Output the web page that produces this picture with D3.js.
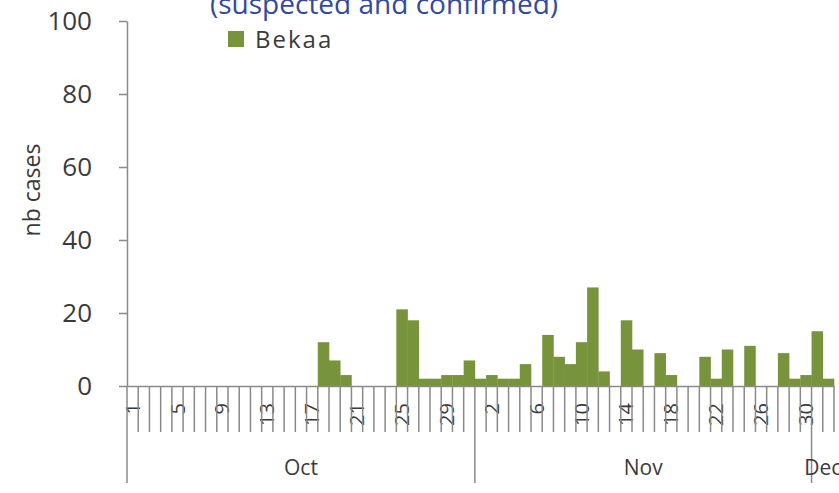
<!DOCTYPE html>
<html>
<head>
<meta charset="utf-8">
<script src="https://cdn.jsdelivr.net/npm/d3@7"></script>
<style>
  html, body { margin: 0; padding: 0; background: #fff; }
  svg { display: block; }
  text { font-family: "Open Sans", "Noto Sans", sans-serif; fill: #3a3a3a; }
</style>
</head>
<body>
<svg id="chart" width="839" height="493"></svg>
<script>
// ---- data ----
const months = ["Oct", "Nov", "Dec"];
const monthDays = [31, 30, 2];
const octCases = [0,0,0,0,0,0,0,0,0,0,0,0,0,0,0,0,0,12,7,3,0,0,0,0,21,18,2,2,3,3,7];
const novCases = [2,3,2,2,6,0,14,8,6,12,27,4,0,18,10,0,9,3,0,0,8,2,10,0,11,0,0,9,2,3];
const decCases = [15,2];
const yTicks = [0, 20, 40, 60, 80, 100];
const seriesName = "Bekaa";
const titleText = "(suspected and confirmed)";
const yLabel = "nb cases";

// build daily table
const monthCases = [octCases, novCases, decCases];
const data = [];
months.forEach((m, mi) => {
  monthCases[mi].forEach((v, di) => data.push({ month: m, day: di + 1, value: v, idx: data.length }));
});

const svg = d3.select("#chart");
const pLeft = 127, pRight = 834, pTop = 21, pBase = 386;
const bar = "#77933c", axisCol = "#8a8a8a";

const x = d3.scaleBand().domain(data.map(d => d.idx)).range([pLeft, pRight]).padding(0);
const y = d3.scaleLinear().domain([0, 100]).range([pBase, pTop]);

// title (cut off at top, as in the reference)
svg.append("text").attr("x", 210).attr("y", 14).attr("font-size", 28)
  .style("fill", "#34499a").text(titleText);

// bars
svg.append("g").selectAll("rect").data(data.filter(d => d.value > 0)).join("rect")
  .attr("x", d => x(d.idx)).attr("width", x.bandwidth() + 0.3)
  .attr("y", d => y(d.value)).attr("height", d => y(0) - y(d.value))
  .attr("fill", bar);

// y axis
const yAxis = svg.append("g").attr("transform", `translate(${pLeft},0)`)
  .call(d3.axisLeft(y).tickValues(yTicks).tickSize(8).tickSizeOuter(0).tickPadding(27));
yAxis.select(".domain").attr("stroke", axisCol).attr("stroke-width", 1.5);
yAxis.selectAll(".tick line").attr("stroke", axisCol).attr("stroke-width", 1.5);
yAxis.selectAll(".tick text").attr("font-size", 26).style("font-family", "'Open Sans', sans-serif").style("fill", "#3a3a3a");

// y label
svg.append("text").attr("transform", `translate(40,190) rotate(-90)`)
  .attr("text-anchor", "middle").attr("font-size", 23).text(yLabel);

// x axis: day labels via band axis
const xAxis = svg.append("g").attr("transform", `translate(0,${pBase})`)
  .call(d3.axisBottom(x).tickSize(0).tickSizeOuter(0)
    .tickValues(data.filter(d => d.idx % 4 === 0).map(d => d.idx))
    .tickFormat(i => data[i].day));
xAxis.select(".domain").attr("stroke", axisCol).attr("stroke-width", 1.5);
xAxis.selectAll(".tick text")
  .attr("font-size", 20).style("font-family", "'Open Sans', sans-serif").style("fill", "#3a3a3a")
  .attr("transform", "rotate(-90)")
  .attr("text-anchor", "end").attr("dy", "0.35em").attr("x", -17).attr("y", 0);

// category separators
const bounds = d3.range(1, data.length + 1);
const monthStarts = [];
let acc = 0;
monthDays.forEach(n => { monthStarts.push(acc); acc += n; });
const edge = i => (i < data.length ? x(i) : x(data.length - 1) + x.bandwidth());
svg.append("g").selectAll("line").data(bounds).join("line")
  .attr("x1", edge).attr("x2", edge)
  .attr("y1", pBase).attr("y2", i => monthStarts.includes(i) ? 483 : 432)
  .attr("stroke", axisCol).attr("stroke-width", 1.5);
// left separator continues y axis
svg.append("line").attr("x1", pLeft).attr("x2", pLeft).attr("y1", pBase).attr("y2", 483)
  .attr("stroke", axisCol).attr("stroke-width", 1.5);

// month labels
months.forEach((m, mi) => {
  const s = monthStarts[mi], e = s + monthDays[mi];
  const cx = (edge(s) + edge(e)) / 2;
  svg.append("text").attr("x", cx).attr("y", 475).attr("text-anchor", "middle")
    .attr("font-size", 21).text(m);
});

// legend
svg.append("rect").attr("x", 228).attr("y", 31).attr("width", 16).attr("height", 16).attr("fill", bar);
svg.append("text").attr("x", 255).attr("y", 48).attr("font-size", 24)
  .attr("letter-spacing", 2).text(seriesName);
</script>
</body>
</html>
